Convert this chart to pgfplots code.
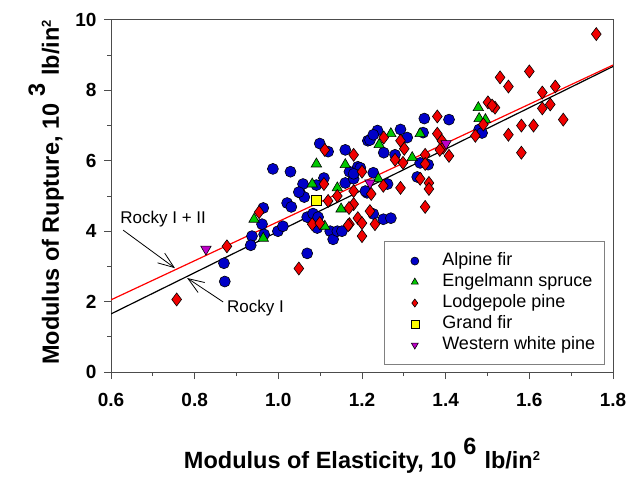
\documentclass[border=0pt]{standalone}
\usepackage{fontspec}
\setmainfont{Liberation Sans}
\usepackage{pgfplots}
\pgfplotsset{compat=1.18}
\usetikzlibrary{arrows.meta}

\definecolor{afblue}{RGB}{0,0,200}
\definecolor{esgreen}{RGB}{0,200,0}
\definecolor{lpred}{RGB}{240,0,0}
\definecolor{gfyellow}{RGB}{255,255,0}
\definecolor{wwpurple}{RGB}{190,0,200}

\begin{document}
\begin{tikzpicture}[x=1pt,y=1pt]
\path[use as bounding box] (0,0) rectangle (636,477);
\begin{axis}[
  at={(111pt,105pt)}, anchor=south west,
  width=502pt, height=352pt, scale only axis,
  xmin=0.6, xmax=1.8, ymin=0, ymax=10,
  xtick={0.6,0.8,1.0,1.2,1.4,1.6,1.8},
  ytick={0,2,4,6,8,10},
  minor x tick num=1, minor y tick num=1,
  tick align=outside, tick pos=left,
  major tick length=7pt, minor tick length=4pt,
  axis line style={black!70, line width=1pt},
  tick style={black!70, line width=1pt},
  /pgf/number format/assume math mode=true,
  ticklabel style={font=\fontsize{19}{22}\selectfont\bfseries},
  x tick label style={yshift=-11pt, /pgf/number format/fixed, /pgf/number format/fixed zerofill, /pgf/number format/precision=1},
  y tick label style={xshift=-4pt},
  xlabel={Modulus of Elasticity, 10\hspace{7pt}\raisebox{14pt}{6}\hspace{8pt}lb/in\raisebox{8pt}{\fontsize{13}{13}\selectfont 2}},
  ylabel={Modulus of Rupture, 10\hspace{7pt}\raisebox{14pt}{3}\hspace{8pt}lb/in\raisebox{8pt}{\fontsize{13}{13}\selectfont 2}},
  label style={font=\fontsize{23.5}{27}\selectfont\bfseries},
  xlabel style={at={(axis description cs:0.5,-0.273)}, anchor=base},
  ylabel style={at={(axis description cs:-0.1036,0.51)}, anchor=base},
  legend style={at={(rel axis cs:0.984,0.02)}, anchor=south east,
    draw=black!50, line width=0.8pt, inner xsep=8pt, inner ysep=9pt,
    font=\fontsize{18}{21}\selectfont,
    nodes={inner sep=1.5pt, text height=13pt, text depth=5pt, anchor=west},
    row sep=0pt},
  legend cell align=left,
  legend image code/.code={\path[draw=none] (0pt,0pt) -- (48pt,0pt); \path[#1, draw=none, mark size=4pt] plot coordinates {(22pt,0pt)};},
]

% Alpine fir
\addplot[only marks, mark=*, mark size=5.5pt, mark options={fill=afblue, draw=black, line width=0.6pt}] table {
x y
0.870 3.09
0.872 2.57
0.937 3.86
0.934 3.60
0.964 4.66
0.961 4.20
0.966 3.91
0.999 4.00
1.011 4.14
1.021 4.80
1.031 4.69
1.052 5.09
1.062 4.97
1.069 4.40
1.069 3.37
1.083 4.50
1.095 4.40
1.093 4.09
1.124 4.00
1.131 3.77
1.141 4.00
1.152 4.00
0.987 5.77
1.029 5.69
1.099 6.49
1.119 6.26
1.160 6.31
1.190 5.83
1.170 5.69
1.109 5.51
1.091 5.31
1.059 5.34
1.049 5.11
1.160 5.37
1.180 5.49
1.212 5.09
1.214 6.57
1.219 6.59
1.349 7.20
1.408 7.17
1.346 6.80
1.292 6.89
1.308 6.66
1.237 6.86
1.227 6.74
1.252 6.23
1.279 6.17
1.358 5.89
1.339 5.94
1.196 5.80
1.180 5.63
1.227 5.66
1.261 5.34
1.332 5.54
1.208 5.14
1.227 4.49
1.251 4.34
1.269 4.37
1.480 6.89
1.487 6.79
};
\addlegendentry{Alpine fir}

% Engelmann spruce
\addplot[only marks, mark=triangle*, mark size=6pt, mark options={fill=esgreen, draw=black, line width=0.6pt}] table {
x y
0.942 4.34
0.964 3.80
1.111 4.14
1.150 4.63
1.091 5.91
1.160 5.89
1.081 5.34
1.141 5.23
1.478 7.51
1.480 7.20
1.495 7.17
1.339 6.77
1.269 6.77
1.241 6.46
1.320 6.09
1.239 5.49
};
\addlegendentry{Engelmann spruce}

% Lodgepole pine
\addplot[only marks, mark=diamond*, mark size=6.5pt, mark options={fill=lpred, draw=black, line width=0.6pt}] table {
x y
0.757 2.06
0.877 3.57
0.954 4.54
1.049 2.94
1.081 4.20
1.099 4.23
1.119 4.86
1.141 5.00
1.170 4.20
1.200 3.86
1.180 4.77
1.190 4.37
1.111 6.31
1.180 6.17
1.200 5.69
1.109 5.34
1.180 5.14
1.760 9.60
1.530 8.37
1.600 8.54
1.550 8.11
1.631 7.94
1.662 8.11
1.631 7.49
1.650 7.60
1.681 7.17
1.501 7.66
1.518 7.51
1.511 7.57
1.490 7.03
1.471 6.71
1.550 6.74
1.581 7.00
1.610 7.00
1.581 6.23
1.380 7.26
1.380 6.77
1.391 6.57
1.252 6.66
1.292 6.57
1.301 6.34
1.351 6.17
1.394 6.37
1.408 6.14
1.386 6.31
1.351 5.91
1.279 6.03
1.298 5.94
1.251 5.29
1.292 5.23
1.360 5.37
1.339 5.49
1.222 5.06
1.360 5.20
1.351 4.69
1.169 4.66
1.219 4.57
1.200 4.23
1.231 4.20
1.167 4.17
};
\addlegendentry{Lodgepole pine}

% Grand fir
\addplot[only marks, mark=square*, mark size=5pt, mark options={fill=gfyellow, draw=black, line width=0.6pt}] table {
x y
1.091 4.89
};
\addlegendentry{Grand fir}

% Western white pine
\addplot[only marks, mark=triangle*, mark size=6pt, mark options={fill=wwpurple, draw=black, line width=0.6pt, rotate=180}] table {
x y
0.827 3.49
1.401 6.49
1.219 5.37
};
\addlegendentry{Western white pine}

% regression lines
\addplot[forget plot, black, line width=1.2pt] coordinates {(0.6,1.65) (1.8,8.68)};
\addplot[forget plot, red, line width=1.2pt] coordinates {(0.6,2.05) (1.8,8.72)};

\draw[line width=0.8pt, -{Straight Barb[length=16pt,width=12pt]}] (axis cs:0.629,4.03) -- (axis cs:0.753,2.95);
\node[anchor=base west, font=\fontsize{17}{20}\selectfont, inner sep=0pt] at (axis cs:0.622,4.23) {Rocky I + II};
\draw[line width=0.8pt, -{Straight Barb[length=16pt,width=12pt]}] (axis cs:0.868,1.99) -- (axis cs:0.782,2.67);
\node[anchor=base west, font=\fontsize{17}{20}\selectfont, inner sep=0pt] at (axis cs:0.877,1.70) {Rocky I};
\end{axis}
\end{tikzpicture}
\end{document}
